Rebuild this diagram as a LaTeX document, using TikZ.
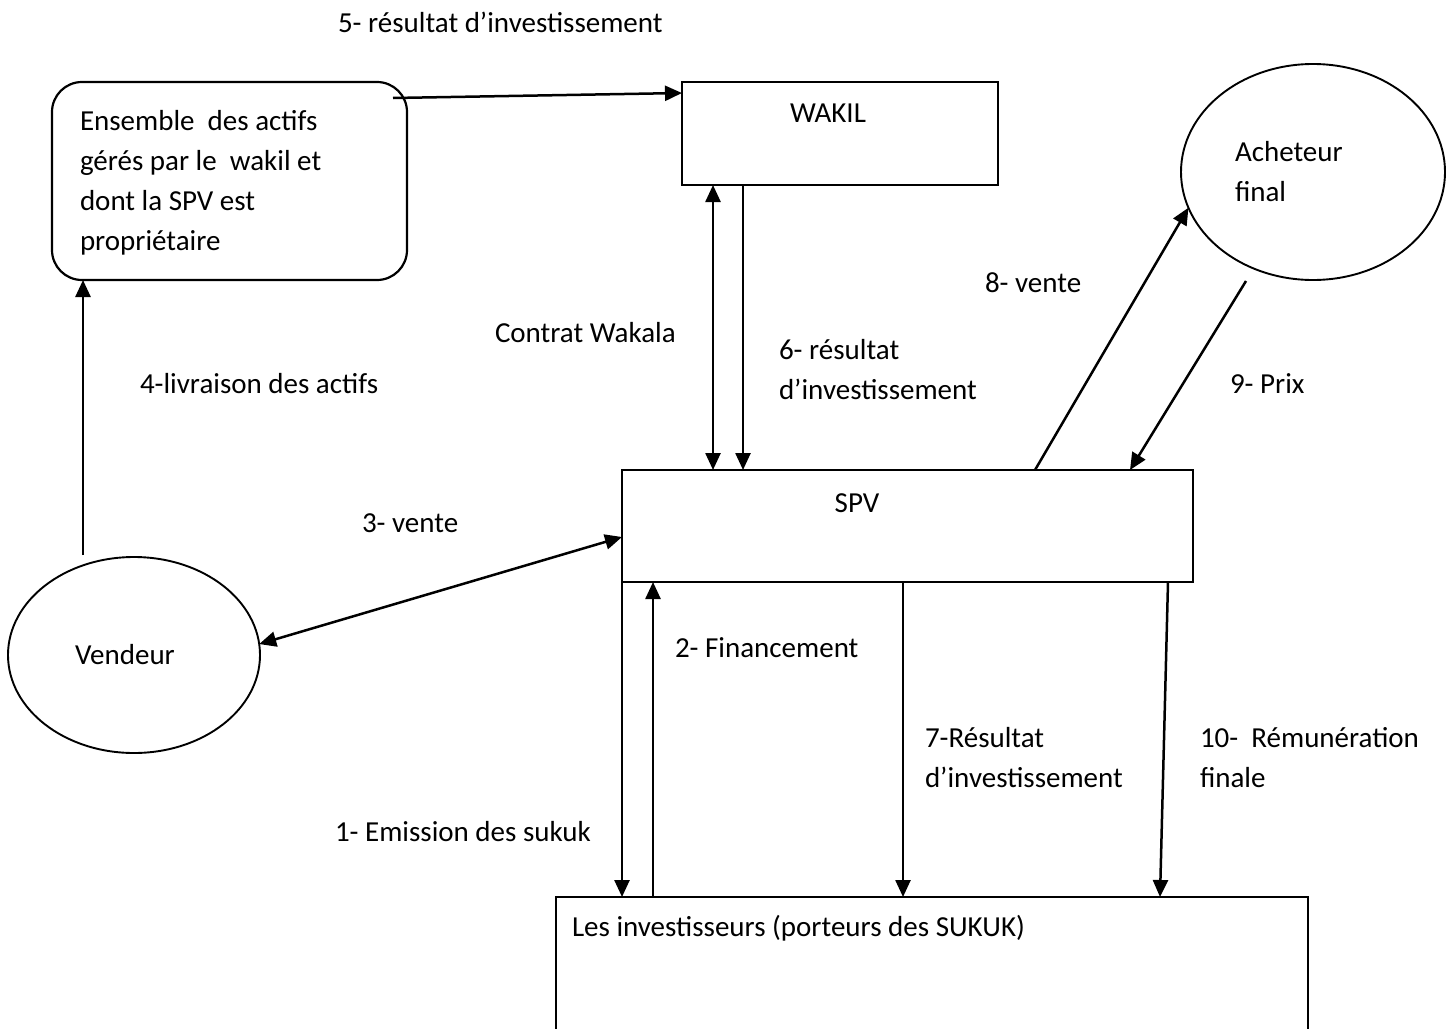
\documentclass[tikz,border=0pt]{standalone}
\usepackage{fontspec}
\setmainfont{Carlito}
\usetikzlibrary{arrows.meta,shapes.geometric}
\begin{document}
\begin{tikzpicture}[x=1pt,y=-1pt,
  every node/.style={inner sep=0pt, outer sep=0pt},
  txt/.style={font=\fontsize{29}{40}\selectfont, align=left},
  frame/.style={draw, line width=2.2pt, rectangle},
  oval/.style={draw, line width=1.9pt, ellipse},
  tip/.tip={Triangle[length=17pt,width=15pt]},
  arr/.style={line width=2.5pt, -tip},
  arrboth/.style={line width=2.5pt, tip-tip}]
\useasboundingbox[fill=white] (0,0) rectangle (1455,1028);

% ---- shapes ----
\node[frame, rounded corners=30pt, minimum width=355pt, minimum height=198pt, anchor=north west] (assets) at (52,82) {};
\node[frame, minimum width=316pt, minimum height=103pt, anchor=north west] (wakil) at (682,82) {};
\node[frame, minimum width=571pt, minimum height=112pt, anchor=north west] (spv) at (622,470) {};
\node[frame, minimum width=752pt, minimum height=160pt, anchor=north west] (invest) at (556,897) {};
\node[oval, minimum width=264pt, minimum height=216pt] (acheteur) at (1313,172) {};
\node[oval, minimum width=252pt, minimum height=196pt] (vendeur) at (134,655) {};

% ---- texts inside the shapes ----
\node[txt, anchor=west] (assetstext) at (80,183) {Ensemble\ \ des actifs\\gérés par le\ \ wakil et\\dont la SPV est\\propriétaire};
\node[txt] (wakiltext) at (828,113) {WAKIL};
\node[txt] (spvtext) at (857,503) {SPV};
\node[txt, anchor=west] (investtext) at (572,928) {Les investisseurs (porteurs des SUKUK)};
\node[txt, anchor=west] (acheteurtext) at (1235,172) {Acheteur\\final};
\node[txt] (vendeurtext) at (125,655) {Vendeur};

% ---- connectors ----
\draw[arr] ([shift={(-14,16)}]assets.north east) -- ([shift={(0,11)}]wakil.north west);
\draw[arrboth] ([shift={(31,0)}]wakil.south west) -- ([shift={(91,0)}]spv.north west);
\draw[arr] ([shift={(61,0)}]wakil.south west) -- ([shift={(121,0)}]spv.north west);
\draw[arr] ([shift={(-51,-100)}]vendeur.center) -- ([shift={(31,0)}]assets.south west);
\draw[arrboth] (vendeur.5) -- ([shift={(0,67)}]spv.north west);
\draw[arr] ([shift={(413,0)}]spv.north west) -- (acheteur.196);
\draw[arr] ([shift={(-67,109)}]acheteur.center) -- ([shift={(508,0)}]spv.north west);
\draw[arr] (spv.south west) -- ([shift={(66,0)}]invest.north west);
\draw[arr] ([shift={(97,0)}]invest.north west) -- ([shift={(31,0)}]spv.south west);
\draw[arr] ([shift={(281,0)}]spv.south west) -- ([shift={(347,0)}]invest.north west);
\draw[arr] ([shift={(546,0)}]spv.south west) -- ([shift={(604,0)}]invest.north west);

% ---- connector labels ----
\node[txt, anchor=west] (l5) at (338,22) {5- résultat d’investissement};
\node[txt, anchor=west] (lwakala) at (495,333) {Contrat Wakala};
\node[txt, anchor=west] (l6) at (779,370) {6- résultat\\d’investissement};
\node[txt, anchor=west] (l4) at (140,384) {4-livraison des actifs};
\node[txt, anchor=west] (l8) at (985,283) {8- vente};
\node[txt, anchor=west] (l9) at (1230,384) {9- Prix};
\node[txt, anchor=west] (l3) at (362,523) {3- vente};
\node[txt, anchor=west] (l2) at (675,648) {2- Financement};
\node[txt, anchor=west] (l7) at (925,758) {7-Résultat\\d’investissement};
\node[txt, anchor=west] (l10) at (1200,758) {10-\ \ Rémunération\\finale};
\node[txt, anchor=west] (l1) at (335,832) {1- Emission des sukuk};
\end{tikzpicture}
\end{document}
